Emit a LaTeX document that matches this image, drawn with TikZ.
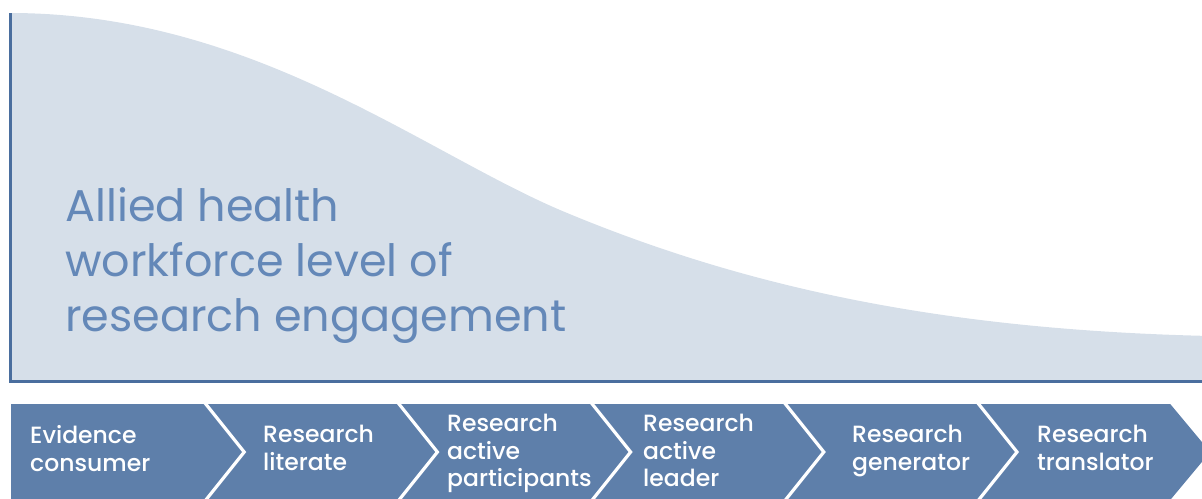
\documentclass[tikz,border=0pt]{standalone}
\usepackage{fontspec}
\setmainfont{Poppins}
\newfontfamily\chevfont{Poppins Medium}
\definecolor{areafill}{HTML}{D6DFE9}
\definecolor{axisblue}{HTML}{4A6E9E}
\definecolor{titleblue}{HTML}{6488B8}
\definecolor{chevblue}{HTML}{5E7FAA}
\tikzset{
  axisline/.style={draw=axisblue, line width=3pt},
  chevsep/.style={draw=white, line width=3.2pt, line join=miter},
  chevtext/.style={anchor=north west, inner sep=0pt, align=left, text=white,
    font=\chevfont\fontsize{23.5}{27.5}\selectfont},
  titletext/.style={anchor=north west, inner sep=0pt, align=left, text=titleblue,
    font=\fontsize{44.5}{55}\selectfont}
}
\begin{document}
\begin{tikzpicture}[x=1pt,y=-1pt]
\useasboundingbox (0,0) rectangle (1202,498);
\begin{scope}
\clip (0,0) rectangle (1202,498);
% shaded area under the curve
\fill[areafill] (10,381) -- (10,13)
  .. controls (250,13) and (420,150) .. (560,210)
  .. controls (750,290) and (950,330) .. (1210,336)
  -- (1210,381) -- cycle;
% axes
\draw[axisline] (10,13) -- (10,381) -- (1210,381);
% chevron band
\fill[chevblue] (11,404) -- (1170.2,404) -- (1210.2,452) -- (1170.2,500) -- (11,500) -- cycle;
\foreach \i in {1,...,5}{
  \pgfmathsetmacro\xa{11+193.2*\i}
  \pgfmathsetmacro\xb{\xa+40}
  \draw[chevsep] (\xa,402) -- (\xb,452) -- (\xa,502);
}
\end{scope}
% title
\node[titletext] (title) at (65,187) {Allied health\\workforce level of\\research engagement};
% stage labels
\node[chevtext] (s1) at (30,425.3)  {Evidence\\consumer};
\node[chevtext] (s2) at (263,425.3) {Research\\literate};
\node[chevtext] (s3) at (447,414.3) {Research\\active\\participants};
\node[chevtext] (s4) at (643,414.3) {Research\\active\\leader};
\node[chevtext] (s5) at (852,425.3) {Research\\generator};
\node[chevtext] (s6) at (1037,425.3) {Research\\translator};
\end{tikzpicture}
\end{document}
